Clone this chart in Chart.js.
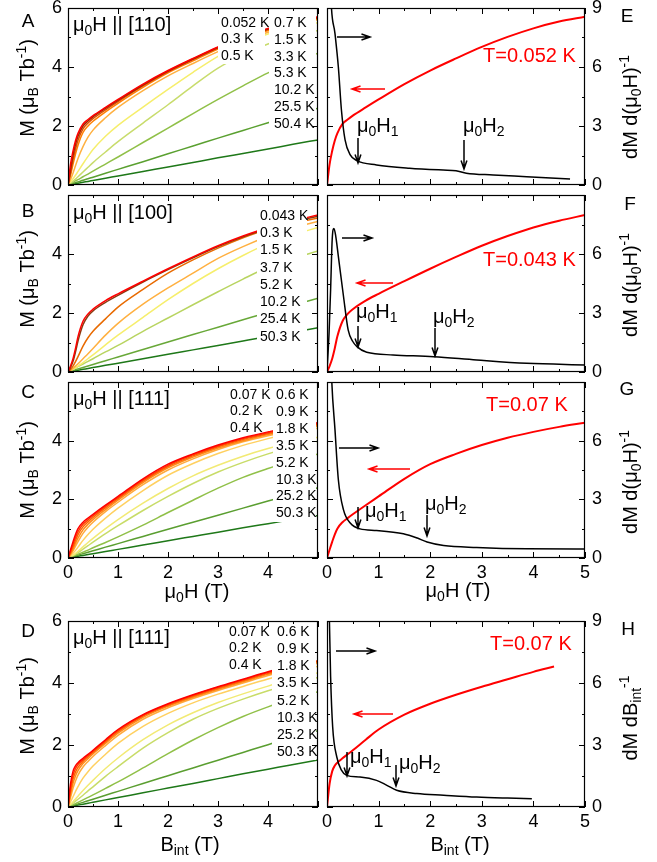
<!DOCTYPE html>
<html><head><meta charset="utf-8">
<script src="https://cdn.jsdelivr.net/npm/chart.js@4/dist/chart.umd.min.js"></script>
<style>
html,body{margin:0;padding:0;background:#fff;}
#wrap{position:relative;width:657px;height:862px;overflow:hidden;background:#fff;}
canvas{position:absolute;left:0;top:0;}
</style></head><body><div id="wrap"></div>
<script>
// ================= DATA =================
const fieldGrid  = [0,0.05,0.1,0.15,0.2,0.3,0.4,0.5,0.75,1,1.5,2,2.5,3,3.5,4,4.5,5];
const fieldGridD = [0,0.05,0.1,0.15,0.2,0.3,0.4,0.5,0.75,1,1.5,2,2.5,3,3.5,4,4.4,5];

// Panel A : H || [110]
const tempsA = ['0.052 K','0.3 K','0.5 K','0.7 K','1.5 K','3.3 K','5.3 K','10.2 K','25.5 K','50.4 K'];
const mA_0052 = [0,0.7,1.15,1.5,1.75,2.07,2.22,2.35,2.63,2.9,3.42,3.88,4.29,4.68,5.02,5.31,5.54,5.7];
const mA_03   = [0,0.5,1.0,1.38,1.65,2.0,2.17,2.31,2.6,2.87,3.39,3.86,4.27,4.66,5.0,5.29,5.52,5.68];
const mA_05   = [0,0.4,0.85,1.22,1.52,1.9,2.1,2.25,2.55,2.83,3.36,3.84,4.25,4.64,4.98,5.27,5.5,5.66];
const mA_07   = [0,0.32,0.7,1.05,1.35,1.78,2.0,2.16,2.48,2.77,3.31,3.8,4.21,4.61,4.95,5.24,5.48,5.63];
const mA_15   = [0,0.18,0.4,0.65,0.9,1.3,1.62,1.86,2.28,2.63,3.2,3.7,4.12,4.52,4.88,5.18,5.43,5.6];
const mA_33   = [0,0.1,0.21,0.33,0.46,0.72,0.97,1.2,1.65,2.02,2.64,3.24,3.82,4.36,4.8,5.12,5.36,5.5];
const mA_53   = [0,0.06,0.13,0.2,0.28,0.44,0.6,0.76,1.12,1.47,2.1,2.72,3.36,3.96,4.42,4.78,5.04,5.24];
const mA_102  = [0,0.045,0.09,0.14,0.18,0.28,0.37,0.47,0.71,0.95,1.44,1.93,2.42,2.9,3.36,3.8,4.17,4.47];
const mA_255  = [0,0.027,0.053,0.08,0.106,0.16,0.21,0.265,0.4,0.53,0.79,1.06,1.32,1.59,1.85,2.11,2.36,2.6];
const mA_504  = [0,0.015,0.03,0.046,0.061,0.092,0.122,0.153,0.23,0.306,0.46,0.61,0.765,0.92,1.07,1.22,1.38,1.53];

// Panel B : H || [100]
const tempsB = ['0.043 K','0.3 K','1.5 K','3.7 K','5.2 K','10.2 K','25.4 K','50.3 K'];
const mB_0043 = [0,0.2,0.45,0.8,1.2,1.72,1.97,2.13,2.42,2.65,3.08,3.5,3.9,4.28,4.61,4.9,5.13,5.32];
const mB_03   = [0,0.15,0.36,0.68,1.05,1.6,1.9,2.07,2.36,2.6,3.05,3.47,3.87,4.25,4.58,4.87,5.1,5.28];
const mB_15   = [0,0.08,0.2,0.35,0.52,0.88,1.16,1.38,1.8,2.2,2.8,3.35,3.8,4.2,4.55,4.85,5.05,5.22];
const mB_37   = [0,0.05,0.12,0.2,0.28,0.45,0.62,0.8,1.25,1.65,2.3,2.85,3.35,3.85,4.25,4.6,4.9,5.1];
const mB_52   = [0,0.04,0.09,0.14,0.2,0.32,0.45,0.58,0.92,1.25,1.85,2.45,3.0,3.5,3.95,4.35,4.65,4.9];
const mB_102  = [0,0.045,0.09,0.135,0.18,0.27,0.36,0.45,0.68,0.9,1.38,1.83,2.28,2.72,3.15,3.55,3.85,4.1];
const mB_254  = [0,0.026,0.051,0.077,0.102,0.153,0.204,0.255,0.383,0.51,0.765,1.02,1.27,1.52,1.77,2.02,2.26,2.5];
const mB_503  = [0,0.015,0.03,0.045,0.06,0.09,0.12,0.15,0.225,0.3,0.45,0.6,0.75,0.9,1.05,1.2,1.35,1.5];

// Panel C : H || [111], vs mu0H
const tempsC = ['0.07 K','0.2 K','0.4 K','0.6 K','0.9 K','1.8 K','3.5 K','5.2 K','10.3 K','25.2 K','50.3 K'];
const mC_007 = [0,0.28,0.55,0.8,1.0,1.22,1.36,1.49,1.8,2.1,2.7,3.2,3.55,3.85,4.1,4.3,4.47,4.61];
const mC_02  = [0,0.22,0.46,0.7,0.9,1.15,1.3,1.44,1.76,2.06,2.66,3.16,3.52,3.82,4.07,4.27,4.44,4.58];
const mC_04  = [0,0.18,0.38,0.6,0.8,1.06,1.23,1.38,1.71,2.02,2.62,3.12,3.48,3.79,4.04,4.24,4.41,4.55];
const mC_06  = [0,0.14,0.3,0.5,0.68,0.96,1.15,1.31,1.65,1.97,2.57,3.07,3.44,3.75,4.0,4.21,4.38,4.52];
const mC_09  = [0,0.11,0.24,0.4,0.56,0.84,1.05,1.22,1.58,1.9,2.5,3.0,3.38,3.7,3.96,4.17,4.35,4.49];
const mC_18  = [0,0.07,0.16,0.26,0.37,0.6,0.8,0.98,1.36,1.7,2.3,2.82,3.22,3.56,3.84,4.07,4.27,4.42];
const mC_35  = [0,0.05,0.1,0.16,0.23,0.38,0.53,0.67,1.0,1.31,1.87,2.37,2.8,3.16,3.47,3.73,3.95,4.12];
const mC_52  = [0,0.04,0.08,0.13,0.18,0.3,0.42,0.54,0.83,1.1,1.62,2.1,2.54,2.93,3.26,3.55,3.79,3.98];
const mC_103 = [0,0.03,0.06,0.1,0.13,0.2,0.27,0.35,0.53,0.72,1.12,1.55,1.97,2.38,2.75,3.05,3.32,3.55];
const mC_252 = [0,0.024,0.049,0.073,0.098,0.147,0.196,0.245,0.37,0.49,0.735,0.98,1.22,1.46,1.7,1.94,2.17,2.4];
const mC_503 = [0,0.015,0.03,0.044,0.059,0.088,0.118,0.147,0.22,0.294,0.44,0.59,0.735,0.88,1.03,1.17,1.31,1.45];

// Panel D : H || [111], vs B_int
const tempsD = tempsC;
const mD_007 = [0,0.75,1.15,1.33,1.43,1.57,1.7,1.83,2.17,2.5,2.98,3.33,3.62,3.88,4.12,4.36,4.53,null];
const mD_02  = [0,0.62,1.02,1.24,1.37,1.52,1.66,1.8,2.14,2.47,2.96,3.31,3.6,3.86,4.1,4.34,4.5,4.72];
const mD_04  = [0,0.5,0.9,1.13,1.28,1.47,1.62,1.76,2.1,2.43,2.93,3.28,3.57,3.83,4.07,4.31,4.47,4.7];
const mD_06  = [0,0.4,0.76,1.0,1.17,1.4,1.56,1.71,2.05,2.38,2.89,3.25,3.54,3.8,4.04,4.28,4.44,4.67];
const mD_09  = [0,0.3,0.6,0.84,1.03,1.29,1.47,1.63,1.98,2.31,2.83,3.2,3.5,3.76,4.0,4.24,4.41,4.64];
const mD_18  = [0,0.16,0.33,0.5,0.66,0.93,1.14,1.32,1.7,2.05,2.6,3.02,3.36,3.64,3.89,4.13,4.3,4.54];
const mD_35  = [0,0.08,0.17,0.26,0.35,0.53,0.7,0.86,1.24,1.58,2.17,2.65,3.04,3.37,3.65,3.9,4.08,4.33];
const mD_52  = [0,0.06,0.12,0.19,0.25,0.38,0.52,0.65,0.99,1.3,1.9,2.4,2.83,3.18,3.48,3.75,3.94,4.18];
const mD_103 = [0,0.035,0.07,0.11,0.15,0.23,0.31,0.39,0.6,0.81,1.26,1.72,2.16,2.56,2.92,3.23,3.45,3.72];
const mD_252 = [0,0.025,0.05,0.076,0.1,0.15,0.2,0.25,0.38,0.505,0.76,1.01,1.26,1.51,1.76,2.01,2.2,2.46];
const mD_503 = [0,0.015,0.03,0.046,0.061,0.092,0.122,0.153,0.23,0.305,0.46,0.61,0.76,0.915,1.07,1.22,1.34,1.52];

// Right panels : dM/dH (black) at lowest temperature
const fieldE = [0.05,0.078,0.155,0.22,0.28,0.35,0.45,0.58,0.96,1.6,2.25,2.5,2.7,3.22,3.87,4.71];
const dMdH_E = [12,9.4,7.7,6.0,3.8,2.29,1.53,1.24,1.02,0.85,0.76,0.73,0.6,0.51,0.42,0.3];
const fieldF = [0,0.04,0.07,0.1,0.135,0.17,0.22,0.32,0.41,0.5,0.58,0.77,1.28,2.07,2.9,3.87,5];
const dMdH_F = [0,2.0,4.18,6.7,7.3,6.9,5.88,3.84,2.14,1.55,1.29,1.0,0.87,0.78,0.61,0.44,0.36];
const fieldG = [0.06,0.09,0.155,0.22,0.32,0.45,0.64,0.96,1.48,1.75,1.94,2.26,2.9,3.87,5];
const dMdH_G = [12,9.2,6.55,4.0,2.46,1.79,1.49,1.41,1.24,1.02,0.82,0.64,0.54,0.47,0.46];
const fieldH = [0.03,0.045,0.07,0.11,0.19,0.28,0.38,0.64,0.96,1.16,1.35,1.74,2.26,2.9,3.5,3.97];
const dMdB_H = [12,9.2,6.3,3.87,2.42,1.78,1.53,1.45,1.29,1.05,0.81,0.65,0.57,0.48,0.43,0.4];

// ================= STYLE / LAYOUT =================
const FONT = '"Liberation Sans", Arial, Helvetica, sans-serif';
Chart.defaults.font.family = FONT;
Chart.defaults.color = '#000';

const colorsA = ['#ff0000','#a02800','#e05000','#ff8000','#ffb040','#f6ee6c','#c8dc6c','#90c048','#5aa030','#1e7818'];
const colorsB = ['#ff0000','#8b3a10','#e86a00','#ffb040','#f6ee6c','#b8d460','#68a838','#1e7818'];
const colorsC = ['#ff0000','#ff3c00','#ff6400','#ff8c1a','#ffaa3c','#ffd060','#f2ea74','#c8dc68','#90c048','#5a9e30','#1e7818'];

const AXW = 40, AXH = 30; // reserved axis box sizes (px)
function fitTo(n){
  return function(scale){
    if (scale.isHorizontal()) scale.height = n; else scale.width = n;
    scale.paddingLeft = 0; scale.paddingRight = 0; scale.paddingTop = 0; scale.paddingBottom = 0;
  };
}
function makeCanvas(){
  const c = document.createElement('canvas');
  c.width = 657; c.height = 862; c.style.width = '657px'; c.style.height = '862px';
  document.getElementById('wrap').appendChild(c);
  return c;
}
function series(grid, vals, color, axis, width){
  return {data: grid.map((h,i)=>({x:h, y:vals[i]})), borderColor:color, borderWidth:width||1.5,
    pointRadius:0, fill:false, cubicInterpolationMode:'monotone', yAxisID: axis||'y'};
}

function parseRich(s){
  const parts=[]; let buf='', i=0;
  while(i<s.length){
    const c=s[i];
    if((c==='_'||c==='^') && s[i+1]==='{'){
      if(buf){parts.push({t:buf,m:0}); buf='';}
      const j=s.indexOf('}',i);
      parts.push({t:s.slice(i+2,j), m:c==='_'?1:2}); i=j+1;
    } else { buf+=c; i++; }
  }
  if(buf) parts.push({t:buf,m:0});
  return parts;
}
function drawRich(ctx, o){
  const size=o.size||20, parts=parseRich(o.s);
  const fN=size+'px '+FONT, fS=(size*0.7)+'px '+FONT;
  ctx.save();
  ctx.translate(o.x,o.y);
  if(o.rot) ctx.rotate(o.rot);
  ctx.fillStyle=o.color||'#000';
  ctx.textBaseline='alphabetic'; ctx.textAlign='left';
  let total=0;
  parts.forEach(p=>{ctx.font=p.m?fS:fN; p.w=ctx.measureText(p.t).width; total+=p.w;});
  let x = o.align==='center' ? -total/2 : (o.align==='right' ? -total : 0);
  const yb = o.mid ? size*0.35 : 0;
  parts.forEach(p=>{
    ctx.font=p.m?fS:fN;
    const dy = p.m===1 ? size*0.22 : (p.m===2 ? -size*0.42 : 0);
    ctx.fillText(p.t, x, yb+dy);
    x+=p.w;
  });
  ctx.restore();
}
function drawArrow(ctx, a){
  const [x0,y0,x1,y1]=a.p;
  ctx.save();
  ctx.strokeStyle=a.color||'#000'; ctx.lineWidth=1.5;
  ctx.beginPath(); ctx.moveTo(x0,y0); ctx.lineTo(x1,y1);
  const ang=Math.atan2(y1-y0,x1-x0), L=9, s=0.33;
  ctx.moveTo(x1-L*Math.cos(ang-s), y1-L*Math.sin(ang-s)); ctx.lineTo(x1,y1);
  ctx.lineTo(x1-L*Math.cos(ang+s), y1-L*Math.sin(ang+s));
  ctx.stroke();
  ctx.restore();
}

const gp = {
  id:'gp',
  afterDatasetsDraw(chart, args, o){
    const ctx=chart.ctx, a=chart.chartArea;
    ctx.save();
    ctx.fillStyle='#fff';
    (o.masks||[]).forEach(m=>ctx.fillRect(m[0],m[1],m[2]-m[0],m[3]-m[1]));
    ctx.strokeStyle='#000'; ctx.lineWidth=1;
    (o.ticks||[]).forEach(t=>{
      const sc=chart.scales[t.axis];
      for(let v=sc.min; v<=sc.max+1e-9; v+=t.step){
        const r=v/t.major, major=Math.abs(r-Math.round(r))<1e-6;
        const len=major?6:3;
        const p=Math.round(sc.getPixelForValue(v))+0.5;
        t.sides.forEach(sd=>{
          ctx.beginPath();
          if(sd==='bottom'){ctx.moveTo(p,a.bottom);ctx.lineTo(p,a.bottom-len);}
          if(sd==='top'){ctx.moveTo(p,a.top);ctx.lineTo(p,a.top+len);}
          if(sd==='left'){ctx.moveTo(a.left,p);ctx.lineTo(a.left+len,p);}
          if(sd==='right'){ctx.moveTo(a.right,p);ctx.lineTo(a.right-len,p);}
          ctx.stroke();
        });
      }
    });
    ctx.lineWidth=1.2;
    ctx.strokeRect(a.left+0.5, a.top+0.5, a.right-a.left-1, a.bottom-a.top-1);
    ctx.restore();
    (o.arrows||[]).forEach(ar=>drawArrow(ctx, ar));
    (o.texts||[]).forEach(t=>drawRich(ctx, t));
  }
};

function legendTexts(temps, cols){
  const out=[]; let k=0;
  cols.forEach(c=>{
    for(let r=0;r<c.n;r++){ out.push({s:temps[k++], x:c.x, y:c.y0+r*c.dy+5, size:14}); }
  });
  return out;
}

function leftPanel(p){
  const a=p.area;
  new Chart(makeCanvas(), {
    type:'line',
    data:{datasets: p.curves.map((v,i)=>series(p.grid, v, p.colors[i]))},
    options:{
      responsive:false, animation:false, events:[], devicePixelRatio:1,
      layout:{padding:{left:a[0]-AXW, top:a[1], right:657-a[2], bottom:862-a[3]-AXH}},
      plugins:{legend:{display:false}, tooltip:{enabled:false},
        gp:{masks:p.masks, texts:p.texts,
          ticks:[{axis:'x',sides:['bottom','top'],step:0.5,major:1},{axis:'y',sides:['left','right'],step:1,major:2}]}},
      scales:{
        x:{type:'linear',min:0,max:5,afterFit:fitTo(AXH),grid:{display:false,drawTicks:false},border:{display:false},
          ticks:{display:p.xLabels,stepSize:1,autoSkip:false,maxRotation:0,padding:4,font:{size:18},color:'#000',
            callback:v=> v===5 ? '' : String(v)}},
        y:{type:'linear',min:0,max:6,afterFit:fitTo(AXW),grid:{display:false,drawTicks:false},border:{display:false},
          ticks:{stepSize:2,autoSkip:false,padding:6,font:{size:18},color:'#000',
            callback:v=> (v===6 && p.hideTop) ? '' : String(v)}}
      }
    },
    plugins:[gp]
  });
}

function rightPanel(p){
  const a=p.area;
  new Chart(makeCanvas(), {
    type:'line',
    data:{datasets:[
      series(p.dGrid, p.dVals, '#000000', 'y2', 1.5),
      series(p.mGrid, p.mVals, '#ff0000', 'y', 2)
    ]},
    options:{
      responsive:false, animation:false, events:[], devicePixelRatio:1,
      layout:{padding:{left:a[0], top:a[1], right:657-a[2]-AXW, bottom:862-a[3]-AXH}},
      plugins:{legend:{display:false}, tooltip:{enabled:false},
        gp:{texts:p.texts, arrows:p.arrows,
          ticks:[{axis:'x',sides:['bottom','top'],step:0.5,major:1},{axis:'y',sides:['left'],step:1,major:2},{axis:'y2',sides:['right'],step:1.5,major:3}]}},
      scales:{
        x:{type:'linear',min:0,max:5,afterFit:fitTo(AXH),grid:{display:false,drawTicks:false},border:{display:false},
          ticks:{display:p.xLabels,stepSize:1,autoSkip:false,maxRotation:0,padding:4,font:{size:18},color:'#000'}},
        y:{type:'linear',display:false,min:0,max:6,afterFit:fitTo(0)},
        y2:{type:'linear',position:'right',min:0,max:9,afterFit:fitTo(AXW),grid:{display:false,drawTicks:false},border:{display:false},
          ticks:{stepSize:3,autoSkip:false,padding:7,font:{size:18},color:'#000',
            callback:v=> (v===9 && p.hideTop) ? '' : String(v)}}
      }
    },
    plugins:[gp]
  });
}

const RED='#ff0000';
const yTitle='M (μ_{B} Tb^{-1})';
const y2Title='dM d(μ_{0}H)^{-1}';
const rot=-Math.PI/2;

// ---------- Left panels ----------
leftPanel({area:[68,8,318,185], grid:fieldGrid, colors:colorsA, xLabels:false, hideTop:false,
  curves:[mA_0052,mA_03,mA_05,mA_07,mA_15,mA_33,mA_53,mA_102,mA_255,mA_504],
  masks:[[218,8,265,64],[269,8,316,132]],
  texts:[{s:'A',x:28,y:27,size:19,align:'center'},{s:'μ_{0}H || [110]',x:73,y:31,size:20},
    {s:yTitle,x:27,y:88,size:20,rot:rot,align:'center',mid:true}]
    .concat(legendTexts(tempsA,[{x:221,y0:21.7,dy:16.7,n:3},{x:274,y0:21.7,dy:16.93,n:7}]))});

leftPanel({area:[68,195,318,372], grid:fieldGrid, colors:colorsB, xLabels:false, hideTop:true,
  curves:[mB_0043,mB_03,mB_15,mB_37,mB_52,mB_102,mB_254,mB_503],
  masks:[[257,196,307,344]],
  texts:[{s:'B',x:28,y:217,size:19,align:'center'},{s:'μ_{0}H || [100]',x:73,y:219,size:20},
    {s:yTitle,x:27,y:279,size:20,rot:rot,align:'center',mid:true}]
    .concat(legendTexts(tempsB,[{x:260,y0:215,dy:17.24,n:8}]))});

leftPanel({area:[68,382,318,558], grid:fieldGrid, colors:colorsC, xLabels:true, hideTop:true,
  curves:[mC_007,mC_02,mC_04,mC_06,mC_09,mC_18,mC_35,mC_52,mC_103,mC_252,mC_503],
  masks:[[227,382,270,431],[273,382,316,522]],
  texts:[{s:'C',x:28,y:398,size:19,align:'center'},{s:'μ_{0}H || [111]',x:73,y:405,size:20},
    {s:yTitle,x:27,y:470,size:20,rot:rot,align:'center',mid:true},
    {s:'μ_{0}H (T)',x:197,y:598,size:20,align:'center'}]
    .concat(legendTexts(tempsC,[{x:230,y0:394,dy:16.4,n:3},{x:276,y0:394,dy:16.9,n:8}]))});

leftPanel({area:[68,621,318,807], grid:fieldGridD, colors:colorsC, xLabels:true, hideTop:false,
  curves:[mD_007,mD_02,mD_04,mD_06,mD_09,mD_18,mD_35,mD_52,mD_103,mD_252,mD_503],
  masks:[[226,621,270,670],[272,621,316,760]],
  texts:[{s:'D',x:28,y:637,size:19,align:'center'},{s:'μ_{0}H || [111]',x:73,y:644,size:20},
    {s:yTitle,x:27,y:706,size:20,rot:rot,align:'center',mid:true},
    {s:'B_{int} (T)',x:190,y:851,size:20,align:'center'}]
    .concat(legendTexts(tempsD,[{x:229,y0:630.7,dy:16.65,n:3},{x:277,y0:630.7,dy:17.23,n:8}]))});

// ---------- Right panels ----------
rightPanel({area:[327,8,585,185], xLabels:false, hideTop:false,
  dGrid:fieldE, dVals:dMdH_E, mGrid:fieldGrid, mVals:mA_0052,
  arrows:[{p:[337,37,370,37]},{p:[385,89,352,89],color:RED},{p:[358,138,358,163]},{p:[464,140,464,169]}],
  texts:[{s:'E',x:627,y:22,size:19,align:'center'},
    {s:y2Title,x:630,y:107,size:20,rot:rot,align:'center',mid:true},
    {s:'T=0.052 K',x:483,y:62,size:20,color:RED},
    {s:'μ_{0}H_{1}',x:357,y:132,size:20},{s:'μ_{0}H_{2}',x:463,y:132,size:20}]});

rightPanel({area:[327,195,585,372], xLabels:false, hideTop:true,
  dGrid:fieldF, dVals:dMdH_F, mGrid:fieldGrid, mVals:mB_0043,
  arrows:[{p:[342,238,372,238]},{p:[393,283,357,283],color:RED},{p:[358,326,358,347]},{p:[435,328,435,356]}],
  texts:[{s:'F',x:630,y:210,size:19,align:'center'},
    {s:y2Title,x:630,y:285,size:20,rot:rot,align:'center',mid:true},
    {s:'T=0.043 K',x:483,y:266,size:20,color:RED},
    {s:'μ_{0}H_{1}',x:356,y:318,size:20},{s:'μ_{0}H_{2}',x:433,y:323,size:20}]});

rightPanel({area:[327,382,585,558], xLabels:true, hideTop:true,
  dGrid:fieldG, dVals:dMdH_G, mGrid:fieldGrid, mVals:mC_007,
  arrows:[{p:[339,448,378,448]},{p:[410,469,369,469],color:RED},{p:[358,507,358,528]},{p:[427,515,427,536]}],
  texts:[{s:'G',x:627,y:395,size:19,align:'center'},
    {s:y2Title,x:630,y:482,size:20,rot:rot,align:'center',mid:true},
    {s:'T=0.07 K',x:486,y:411,size:20,color:RED},
    {s:'μ_{0}H (T)',x:458,y:597,size:20,align:'center'},
    {s:'μ_{0}H_{1}',x:365,y:517,size:20},{s:'μ_{0}H_{2}',x:425,y:510,size:20}]});

rightPanel({area:[327,621,585,807], xLabels:true, hideTop:false,
  dGrid:fieldH, dVals:dMdB_H, mGrid:fieldGridD, mVals:mD_007,
  arrows:[{p:[336,651,375,651]},{p:[393,714,354,714],color:RED},{p:[347,752,347,776]},{p:[396,765,396,786]}],
  texts:[{s:'H',x:628,y:635,size:19,align:'center'},
    {s:'dM dB_{int}^{-1}',x:630,y:718,size:20,rot:rot,align:'center',mid:true},
    {s:'T=0.07 K',x:490,y:650,size:20,color:RED},
    {s:'B_{int} (T)',x:460,y:851,size:20,align:'center'},
    {s:'μ_{0}H_{1}',x:350,y:763,size:20},{s:'μ_{0}H_{2}',x:399,y:769,size:20}]});
</script></body></html>
